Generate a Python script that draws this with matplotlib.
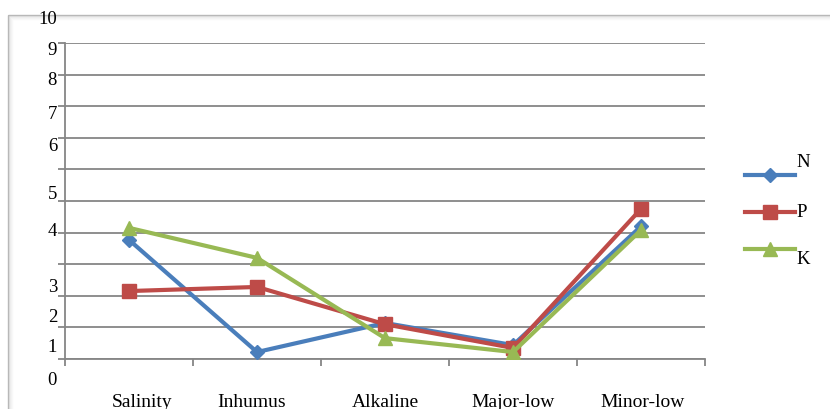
import matplotlib
matplotlib.use('Agg')
import matplotlib.pyplot as plt
from matplotlib.patches import Rectangle

categories = ['Salinity', 'Inhumus', 'Alkaline', 'Major-low', 'Minor-low']
n_vals = [3.77, 0.22, 1.14, 0.44, 4.2]
p_vals = [2.15, 2.28, 1.1, 0.35, 4.75]
k_vals = [4.15, 3.2, 0.66, 0.22, 4.08]

# y labels sit at odd heights in the original
ytick_text = ['0', '1', '2', '3', '4', '5', '6', '7', '8', '9', '10']
ytick_text_pos = [-0.66, 0.38, 1.33, 2.28, 4.08, 5.25, 6.77, 7.78, 8.83, 9.78, 10.79]
xlabel_shift = [0.1, -0.04, 0.0, 0.0, 0.01]

serif = 'Liberation Serif'
grid_col = '#868686'

fig = plt.figure(figsize=(8.3, 4.1), dpi=100)

# outer chart frame with a faint inner shadow
bg = fig.add_axes([0, 0, 1, 1])
bg.set_xlim(0, 830)
bg.set_ylim(410, 0)
bg.axis('off')
for i, c in enumerate(['#e4e4e4', '#ececec', '#f3f3f3', '#f8f8f8']):
    bg.add_patch(Rectangle((9 + i, 17 + i), 830, 410, fill=False, edgecolor=c, lw=1))
bg.add_patch(Rectangle((8, 16), 830, 410, fill=False, edgecolor='#b8b8b8', lw=1))

ax = fig.add_axes([65 / 830, 1 - 360 / 410, 640 / 830, 316 / 410])
ax.patch.set_alpha(0)
x = range(len(categories))
series = [('N', n_vals, '#4a7ebb', 'D', 7.5),
          ('P', p_vals, '#be4b48', 's', 9.5),
          ('K', k_vals, '#98b954', '^', 10.5)]
for name, vals, col, mk, ms in series:
    ax.plot(x, vals, color=col, lw=3, marker=mk, markersize=ms, label=name, zorder=3)

ax.set_xlim(-0.5, 4.5)
ax.set_ylim(0, 10)
ax.set_yticks(range(11))
ax.set_yticklabels([''] * 11)
ax.set_xticks([i + 0.5 for i in range(-1, 5)])
ax.set_xticklabels([''] * 6)
ax.tick_params(axis='both', direction='out', length=5, width=1.3, color=grid_col)
ax.grid(axis='y', color=grid_col, lw=1.3)
ax.set_axisbelow(True)
for s in ['top', 'right']:
    ax.spines[s].set_visible(False)
for s in ['left', 'bottom']:
    ax.spines[s].set_color(grid_col)
    ax.spines[s].set_linewidth(1.3)

for t, yp in zip(ytick_text, ytick_text_pos):
    ax.text(-0.0125, yp, t, transform=ax.get_yaxis_transform(), ha='right', va='center',
            fontsize=13.5, family=serif, clip_on=False)
for i, (c, dx) in enumerate(zip(categories, xlabel_shift)):
    ax.text(i + dx, -0.136, c, transform=ax.get_xaxis_transform(), ha='center', va='center',
            fontsize=14, family=serif, clip_on=False)

# legend drawn by hand: label offsets differ per row in the original
leg_y = [176, 213, 250]
leg_text_y = [163, 213, 260]
for (name, vals, col, mk, ms), ly, ty in zip(series, leg_y, leg_text_y):
    bg.plot([745, 795], [ly, ly], color=col, lw=3)
    bg.plot([770], [ly], color=col, marker=mk, markersize=ms)
    bg.text(796, ty, name, fontsize=13.5, family=serif, ha='left', va='center')

plt.savefig('out.png', dpi=100)
